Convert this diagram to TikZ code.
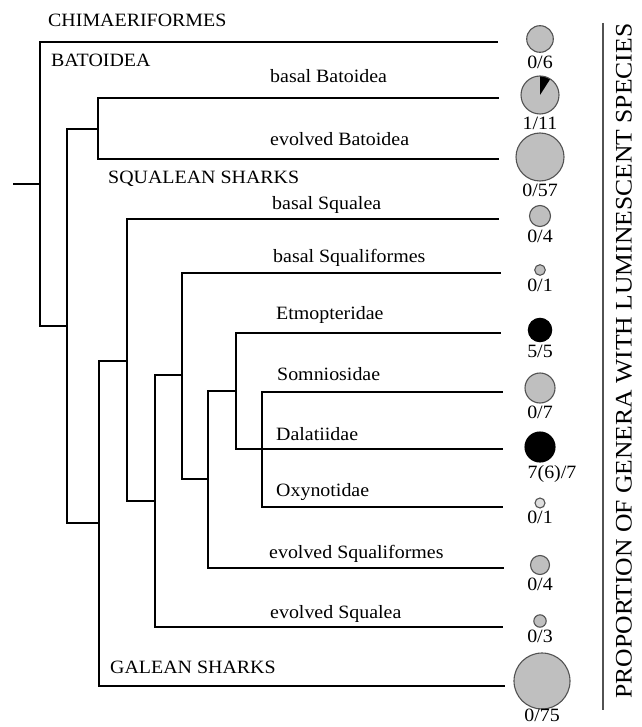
\documentclass[tikz,border=0pt]{standalone}
\usepackage{fontspec}
\setmainfont[FakeStretch=1.06]{Liberation Serif}
\newfontfamily\axisfont[FakeStretch=1.08]{Liberation Serif}
\usetikzlibrary{positioning}
\definecolor{discgray}{gray}{0.75}
\definecolor{palegray}{gray}{0.87}
\definecolor{rimgray}{gray}{0.32}

\begin{document}
\begin{tikzpicture}[x=1pt,y=-1pt,
  branch/.style={line width=2.7pt, line cap=rect},
  taxon/.style={anchor=base west, inner sep=0pt, font=\fontsize{18.8}{22}\selectfont},
  disc/.style={circle, draw=rimgray, line width=1.1pt, fill=discgray, inner sep=0pt, outer sep=0pt, minimum size=#1},
  tally/.style={inner sep=0pt, font=\fontsize{18.8}{22}\selectfont}]
\useasboundingbox (0,0) rectangle (641,727);

% tree nodes
\coordinate (stem) at (14,184);
\coordinate (root) at (40,184);
\coordinate (elas) at (67,326);
\coordinate (bat) at (98,129);
\coordinate (shark) at (99,523);
\coordinate (sqa) at (127,361);
\coordinate (sqa2) at (155,501);
\coordinate (sqf) at (182,375);
\coordinate (sqf2) at (208,479);
\coordinate (etdal) at (236,391);
\coordinate (somdal) at (262,449);
% tips
\coordinate (chim) at (497,42);
\coordinate (bbat) at (498,98);
\coordinate (ebat) at (498,159);
\coordinate (bsqa) at (498,219);
\coordinate (bsqf) at (500,273);
\coordinate (etmo) at (500,333);
\coordinate (somn) at (502,392);
\coordinate (dala) at (502,449);
\coordinate (oxyn) at (502,507);
\coordinate (esqf) at (503,568);
\coordinate (esqa) at (502,627);
\coordinate (gale) at (504,686);

\draw[branch] (stem) -- (root);
\draw[branch] (root) |- (chim);
\draw[branch] (root) |- (elas);
\draw[branch] (elas) |- (bat);
\draw[branch] (elas) |- (shark);
\draw[branch] (bat) |- (bbat);
\draw[branch] (bat) |- (ebat);
\draw[branch] (shark) |- (sqa);
\draw[branch] (shark) |- (gale);
\draw[branch] (sqa) |- (bsqa);
\draw[branch] (sqa) |- (sqa2);
\draw[branch] (sqa2) |- (sqf);
\draw[branch] (sqa2) |- (esqa);
\draw[branch] (sqf) |- (bsqf);
\draw[branch] (sqf) |- (sqf2);
\draw[branch] (sqf2) |- (etdal);
\draw[branch] (sqf2) |- (esqf);
\draw[branch] (etdal) |- (etmo);
\draw[branch] (etdal) |- (dala);
\draw[branch] (somdal) |- (somn);
\draw[branch] (somdal) |- (oxyn);

% names
\node[taxon] (tchim) at (48,27) {CHIMAERIFORMES};
\node[taxon] (tbato) at (51,67) {BATOIDEA};
\node[taxon] (tbbat) at (270,83) {basal Batoidea};
\node[taxon] (tebat) at (270,146) {evolved Batoidea};
\node[taxon] (tsqua) at (108,184) {SQUALEAN SHARKS};
\node[taxon] (tbsqa) at (272,210) {basal Squalea};
\node[taxon] (tbsqf) at (273,262) {basal Squaliformes};
\node[taxon] (tetmo) at (276,319) {Etmopteridae};
\node[taxon] (tsomn) at (277,380) {Somniosidae};
\node[taxon] (tdala) at (276,440) {Dalatiidae};
\node[taxon] (toxyn) at (276,496) {Oxynotidae};
\node[taxon] (tesqf) at (269,558) {evolved Squaliformes};
\node[taxon] (tesqa) at (270,618) {evolved Squalea};
\node[taxon] (tgale) at (110,673) {GALEAN SHARKS};

% proportions
\node[disc=26.6pt] (c1) at (540,39) {};
\node[disc=38pt, path picture={\fill[black] (path picture bounding box.center) -- ++(90:19pt)
  arc[start angle=90, end angle=57.3, radius=19pt] -- cycle;}] (c2) at (540,95) {};
\node[disc=48pt] (c3) at (540,157) {};
\node[disc=21pt] (c4) at (540,216) {};
\node[disc=10.6pt] (c5) at (540,270) {};
\node[disc=23.4pt, fill=black, draw=black] (c6) at (540,330) {};
\node[disc=30pt] (c7) at (540,388) {};
\node[disc=30pt, fill=black, draw=black] (c8) at (540,447) {};
\node[disc=10pt, fill=palegray] (c9) at (540,503) {};
\node[disc=19pt] (c10) at (540,565) {};
\node[disc=12.4pt] (c11) at (540,621) {};
\node[disc=56pt] (c12) at (542,681) {};

\node[tally, below=3pt of c1] (f1) {0/6};
\node[tally, below=3pt of c2] (f2) {1/11};
\node[tally, below=3pt of c3] (f3) {0/57};
\node[tally, below=3pt of c4] (f4) {0/4};
\node[tally, below=3pt of c5] (f5) {0/1};
\node[tally, below=3pt of c6] (f6) {5/5};
\node[tally, below=3pt of c7] (f7) {0/7};
\node[tally, below=3pt of c8, xshift=12pt] (f8) {7(6)/7};
\node[tally, below=3pt of c9] (f9) {0/1};
\node[tally, below=3pt of c10] (f10) {0/4};
\node[tally, below=3pt of c11] (f11) {0/3};
\node[tally, below=0pt of c12] (f12) {0/75};

% axis
\coordinate (rtop) at (603,23);
\coordinate (rbot) at (603,710);
\draw[rimgray, line width=1.3pt] (rtop) -- (rbot);
\node[rotate=90, inner sep=0pt, font=\axisfont\fontsize{23.7}{26}\selectfont] (axis) at (624,361)
  {PROPORTION OF GENERA WITH LUMINESCENT SPECIES};
\end{tikzpicture}
\end{document}
